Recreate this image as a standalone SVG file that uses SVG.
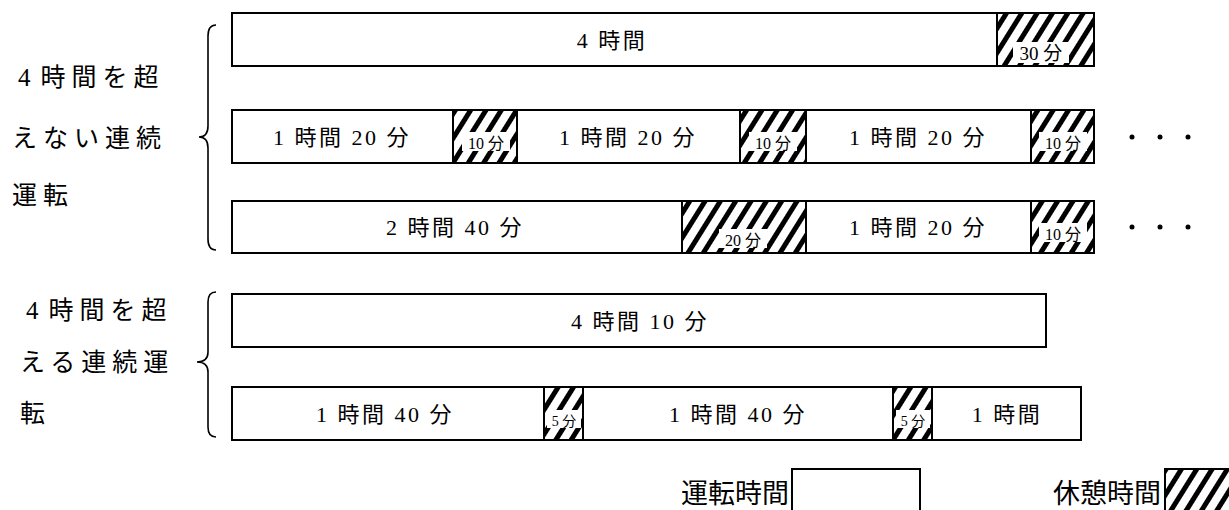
<svg xmlns="http://www.w3.org/2000/svg" width="1229" height="510" viewBox="0 0 1229 510">
<defs>
<pattern id="hatch" width="13" height="13" patternUnits="userSpaceOnUse" patternTransform="rotate(32)">
<rect x="0" y="0" width="5" height="13" fill="#000"/>
</pattern>
</defs>
<style>
.drive{fill:#fff;stroke:#000;stroke-width:2}
.rest{fill:url(#hatch);stroke:#000;stroke-width:2}
.lbl{font-family:"Liberation Serif","Noto Sans CJK JP",serif;font-size:22px;letter-spacing:2.5px;text-anchor:middle;fill:#000}
.small{font-family:"Liberation Serif","Noto Sans CJK JP",serif;font-size:16px;text-anchor:middle;fill:#000}
.halo{fill:#fff}
.side{font-family:"Liberation Serif","Noto Sans CJK JP",serif;font-size:25px;letter-spacing:6px;fill:#000}
.legend{font-family:"Noto Sans CJK JP",sans-serif;font-size:27px;text-anchor:end;fill:#000}
.brace{fill:none;stroke:#000;stroke-width:1.6}
.dot{fill:#000}
</style>
<rect width="1229" height="510" fill="#fff"/>

<g id="label-group1">
<text class="side" x="18" y="86">4<tspan dx="4">時間を超</tspan></text>
<text class="side" x="12" y="147">えない連続</text>
<text class="side" x="12" y="204">運転</text>
</g>
<g id="label-group2">
<text class="side" x="26" y="319">4<tspan dx="4">時間を超</tspan></text>
<text class="side" x="20" y="371">える連続運</text>
<text class="side" x="20" y="422">転</text>
</g>

<g id="connectors">
<path class="brace" d="M216 25 Q208 25 208 36 L208 126 Q208 137 199 137 Q208 137 208 148 L208 239 Q208 250 216 250"/>
<path class="brace" d="M216 292 Q208 292 208 302 L208 352 Q208 362 197 362 Q208 362 208 372 L208 427 Q208 437 216 437"/>
</g>

<g id="row1">
<rect class="drive" x="232" y="13" width="765" height="53"/>
<rect class="rest" x="997" y="13" width="97" height="53"/>
<text class="lbl" x="612" y="48" xml:space="preserve">4 時間</text>
<rect class="halo" x="1013" y="42" width="56" height="21"/>
<text class="small" x="1041" y="60" style="font-size:19px" xml:space="preserve">30 分</text>
</g>

<g id="row2">
<rect class="drive" x="232" y="110" width="221" height="53"/>
<rect class="rest" x="453" y="110" width="64" height="53"/>
<rect class="drive" x="517" y="110" width="223" height="53"/>
<rect class="rest" x="740" y="110" width="66" height="53"/>
<rect class="drive" x="806" y="110" width="225" height="53"/>
<rect class="rest" x="1031" y="110" width="63" height="53"/>
<text class="lbl" x="342" y="145" xml:space="preserve">1 時間 20 分</text>
<text class="lbl" x="628" y="145" xml:space="preserve">1 時間 20 分</text>
<text class="lbl" x="918" y="145" xml:space="preserve">1 時間 20 分</text>
<rect class="halo" x="462" y="132" width="48" height="19"/>
<text class="small" x="486" y="149" xml:space="preserve">10 分</text>
<rect class="halo" x="749" y="132" width="48" height="19"/>
<text class="small" x="773" y="149" xml:space="preserve">10 分</text>
<rect class="halo" x="1039" y="132" width="48" height="19"/>
<text class="small" x="1063" y="149" xml:space="preserve">10 分</text>
<circle class="dot" cx="1132" cy="137" r="2.5"/>
<circle class="dot" cx="1160" cy="137" r="2.5"/>
<circle class="dot" cx="1188" cy="137" r="2.5"/>
</g>

<g id="row3">
<rect class="drive" x="232" y="201" width="450" height="52"/>
<rect class="rest" x="682" y="201" width="124" height="52"/>
<rect class="drive" x="806" y="201" width="225" height="52"/>
<rect class="rest" x="1031" y="201" width="63" height="52"/>
<text class="lbl" x="455" y="235" xml:space="preserve">2 時間 40 分</text>
<text class="lbl" x="918" y="235" xml:space="preserve">1 時間 20 分</text>
<rect class="halo" x="719" y="229" width="48" height="19"/>
<text class="small" x="743" y="246" xml:space="preserve">20 分</text>
<rect class="halo" x="1039" y="223" width="48" height="19"/>
<text class="small" x="1063" y="240" xml:space="preserve">10 分</text>
<circle class="dot" cx="1132" cy="227" r="2.5"/>
<circle class="dot" cx="1160" cy="227" r="2.5"/>
<circle class="dot" cx="1188" cy="227" r="2.5"/>
</g>

<g id="row4">
<rect class="drive" x="232" y="294" width="814" height="53"/>
<text class="lbl" x="640" y="329" xml:space="preserve">4 時間 10 分</text>
</g>

<g id="row5">
<rect class="drive" x="232" y="387" width="312" height="53"/>
<rect class="rest" x="544" y="387" width="39" height="53"/>
<rect class="drive" x="583" y="387" width="310" height="53"/>
<rect class="rest" x="893" y="387" width="39" height="53"/>
<rect class="drive" x="932" y="387" width="149" height="53"/>
<text class="lbl" x="385" y="422" xml:space="preserve">1 時間 40 分</text>
<text class="lbl" x="738" y="422" xml:space="preserve">1 時間 40 分</text>
<text class="lbl" x="1007" y="422" xml:space="preserve">1 時間</text>
<rect class="halo" x="547" y="410" width="34" height="18"/>
<text class="small" x="564" y="426" style="font-size:14px" xml:space="preserve">5 分</text>
<rect class="halo" x="896" y="410" width="34" height="18"/>
<text class="small" x="913" y="426" style="font-size:14px" xml:space="preserve">5 分</text>
</g>

<g id="legend-drive">
<text class="legend" x="789" y="503">運転時間</text>
<rect class="drive" x="792" y="469" width="128" height="45"/>
</g>
<g id="legend-rest">
<text class="legend" x="1161" y="503">休憩時間</text>
<rect class="rest" x="1165" y="469" width="66" height="45"/>
</g>
</svg>
